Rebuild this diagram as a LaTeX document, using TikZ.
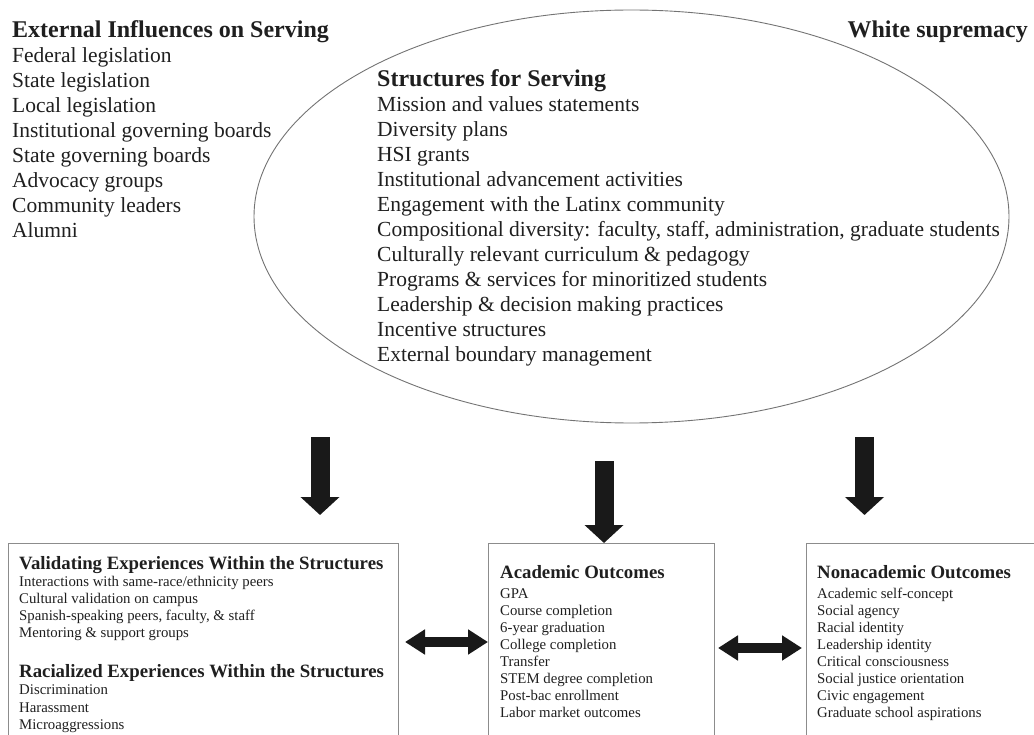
\documentclass[tikz,border=0pt]{standalone}
\usepackage{fontspec}
\setmainfont{Liberation Serif}
\usetikzlibrary{shapes.geometric,arrows.meta}
\begin{document}
\begin{tikzpicture}[x=1pt,y=-1pt,
  txt/.style={anchor=base west, inner sep=0pt, text=black!88},
  big/.style={txt, font=\fontsize{21.5}{25}\selectfont},
  bigb/.style={txt, font=\fontsize{24}{28}\selectfont\bfseries},
  small/.style={txt, font=\fontsize{14.8}{17}\selectfont},
  smallb/.style={txt, font=\fontsize{18.8}{22}\selectfont\bfseries},
  outbox/.style={draw=black!45, line width=1.2pt, anchor=north west, inner sep=0pt},
  downarrow/.style={draw=black!90, line width=19pt, -{Triangle[width=38pt,length=18pt]}},
  dblarrow/.style={draw=black!90, line width=10pt, {Triangle[width=24pt,length=20pt]}-{Triangle[width=24pt,length=20pt]}}
]
\useasboundingbox (0,0) rectangle (1034,735);
\clip (0,0) rectangle (1034,735);

% Ellipse
\node[ellipse, draw=black!55, line width=0.9pt, minimum width=755pt, minimum height=413pt, inner sep=0pt] (struct) at (631.5,216.5) {};

% External influences
\node[bigb] (exttitle) at (12,38) {External Influences on Serving};
\foreach \t [count=\i] in {Federal legislation, State legislation, Local legislation, Institutional governing boards, State governing boards, Advocacy groups, Community leaders, Alumni}
  \node[big] (ext\i) at (12,38+25*\i) {\t};

% White supremacy
\node[bigb, anchor=base east] (white) at (1028,38) {White supremacy};

% Structures
\node[bigb] (structtitle) at (377,87) {Structures for Serving};
\foreach \t [count=\i] in {Mission and values statements, Diversity plans, HSI grants, Institutional advancement activities, Engagement with the Latinx community, {Compositional diversity: faculty, staff, administration, graduate students}, Culturally relevant curriculum \& pedagogy, Programs \& services for minoritized students, Leadership \& decision making practices, Incentive structures, External boundary management}
  \node[big] (st\i) at (377,87+25*\i) {\t};

% Boxes
\node[outbox, minimum width=390pt, minimum height=230pt] (vbox) at (8,543) {};
\node[outbox, minimum width=226pt, minimum height=230pt] (abox) at (488,543) {};
\node[outbox, minimum width=260pt, minimum height=230pt] (nbox) at (806,543) {};

% Left box text
\node[smallb] (valtitle) at (19,569) {Validating Experiences Within the Structures};
\foreach \t [count=\i] in {Interactions with same-race/ethnicity peers, Cultural validation on campus, {Spanish-speaking peers, faculty, \& staff}, Mentoring \& support groups}
  \node[small] (val\i) at (19,569+17*\i) {\t};
\node[smallb] (ractitle) at (19,677) {Racialized Experiences Within the Structures};
\foreach \t [count=\i] in {Discrimination, Harassment, Microaggressions}
  \node[small] (rac\i) at (19,677+17.5*\i) {\t};

% Middle box text
\node[smallb] (acatitle) at (500,578) {Academic Outcomes};
\foreach \t [count=\i] in {GPA, Course completion, 6-year graduation, College completion, Transfer, STEM degree completion, Post-bac enrollment, Labor market outcomes}
  \node[small] (aca\i) at (500,581+17*\i) {\t};

% Right box text
\node[smallb] (nontitle) at (817,578) {Nonacademic Outcomes};
\foreach \t [count=\i] in {Academic self-concept, Social agency, Racial identity, Leadership identity, Critical consciousness, Social justice orientation, Civic engagement, Graduate school aspirations}
  \node[small] (non\i) at (817,581+17*\i) {\t};

% Down arrows
\coordinate (d1s) at (320,437);
\coordinate (d1e) at (vbox.north -| 320,0);
\coordinate (d2s) at (604,461);
\coordinate (d2e) at (604,539);
\coordinate (d3s) at (864.5,437);
\coordinate (d3e) at (864.5,515);
\draw[downarrow] (d1s) -- (320,515);
\draw[downarrow] (d2s) -- (abox.north -| d2s);
\draw[downarrow] (d3s) -- (d3e);

% Double arrows
\coordinate (h1s) at (405,642);
\draw[dblarrow] (h1s) -- (abox.west |- h1s);
\coordinate (h2s) at (718,648);
\coordinate (h2e) at (802,648);
\draw[dblarrow] (h2s) -- (h2e);
\end{tikzpicture}
\end{document}
